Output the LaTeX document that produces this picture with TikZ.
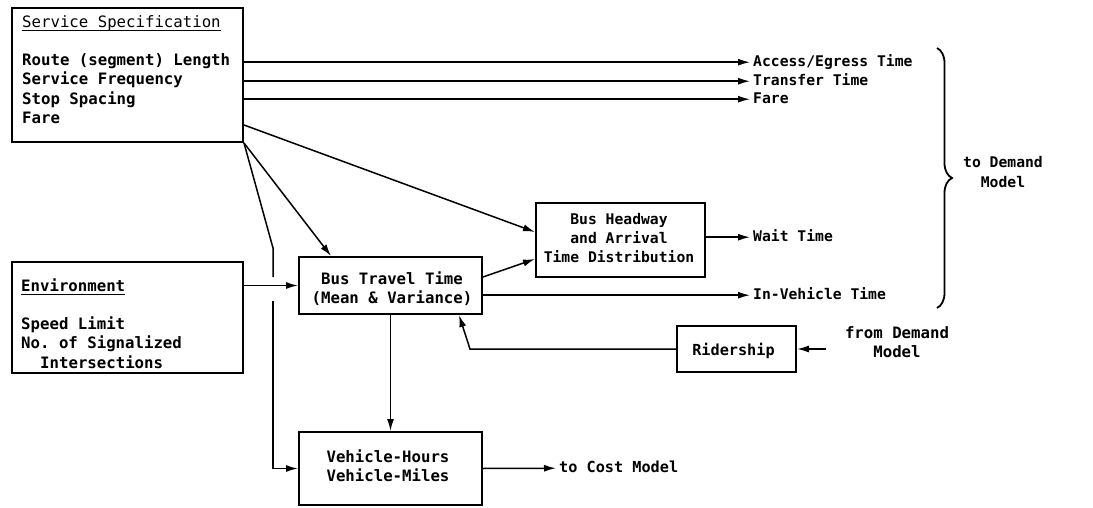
\documentclass[tikz,border=0pt]{standalone}
\usepackage{fontspec}
\setmonofont{DejaVu Sans Mono}
\usetikzlibrary{arrows.meta,calc,decorations.pathreplacing}
\newcommand\myul[1]{\setbox0\hbox{#1}\rlap{\rule[-4pt]{\wd0}{1.4pt}}\box0}
\newcommand\fbig{\ttfamily\bfseries\fontsize{15.7}{19.2}\selectfont}
\newcommand\fmid{\ttfamily\bfseries\fontsize{15.2}{19.2}\selectfont}
\newcommand\fsml{\ttfamily\bfseries\fontsize{14.7}{19.2}\selectfont}
\tikzset{
  box/.style={draw, line width=2pt, inner sep=0pt},
  lbl/.style={inner sep=0pt, align=center},
  lft/.style={inner sep=0pt, align=left, anchor=north west, font=\fbig},
  rlbl/.style={inner xsep=3pt, inner ysep=0pt, anchor=west, font=\fsml},
  conn/.style={line width=1.5pt},
  arr/.style={conn, -{Latex[length=12pt,width=7pt]}},
  bracestyle/.style={line width=1.8pt, decorate, decoration={brace, amplitude=15pt}},
}
\begin{document}
\begin{tikzpicture}[x=1pt, y=-1pt]
\useasboundingbox (0,0) rectangle (1093,508);

% boxes
\node[box, minimum width=231pt, minimum height=134pt] (ss)  at (127.5,75) {};
\node[box, minimum width=231pt, minimum height=111pt] (env) at (127.5,317.5) {};
\node[box, minimum width=183pt, minimum height=57pt]  (btt) at (390.5,285.5) {};
\node[box, minimum width=169pt, minimum height=74pt]  (bh)  at (620.5,240) {};
\node[box, minimum width=183pt, minimum height=73pt]  (vhm) at (390.5,468.5) {};
\node[box, minimum width=119pt, minimum height=46pt]  (rid) at (736.5,349) {};

% box texts
\node[lft] (sstxt) at (22,13.6) {\strut\myul{\mdseries Service Specification}\\\strut\\\strut Route (segment) Length\\\strut Service Frequency\\\strut Stop Spacing\\\strut Fare};
\node[lft] (envtxt) at (21,277.6) {\strut\myul{Environment}\\\strut\\\strut Speed Limit\\\strut No. of Signalized\\\strut\hspace*{19pt}Intersections};
\node[lbl, font=\fbig] (btttxt) at (392,290.2) {\strut Bus Travel Time\\\strut(Mean \& Variance)};
\node[lbl, font=\fsml] (bhtxt) at (619,239.8) {\strut Bus Headway\\\strut and Arrival\\\strut Time Distribution};
\node[lbl, font=\fbig] (vhmtxt) at (388,468.2) {\strut Vehicle-Hours\\\strut Vehicle-Miles};
\node[lbl, font=\fmid] (ridtxt) at (733.5,351.2) {\strut Ridership};

% outside labels
\node[rlbl] (acc)   at (750,62.2)  {\strut Access/Egress Time};
\node[rlbl] (tt)    at (750,81.2)  {\strut Transfer Time};
\node[rlbl] (fare)  at (750,99.2)  {\strut Fare};
\node[rlbl] (wait)  at (750,237.2) {\strut Wait Time};
\node[rlbl] (inveh) at (750,295.2) {\strut In-Vehicle Time};
\node[rlbl, font=\fmid] (cost) at (556,468.2) {\strut to Cost Model};
\node[lbl, font=\fbig] (fromdm) at (897,344.2) {\strut from Demand\\\strut Model};
\node[lbl, font=\fsml] (todm) at (1003,173.7) {\strut to Demand\\\strut Model};

% coordinates
\coordinate (j1) at (273,248);
\coordinate (j2) at (273,277);
\coordinate (j3) at (273,301);
\coordinate (bend) at (470,349);
\coordinate (fd) at (826,349);
\coordinate (brt) at (937,48);
\coordinate (brb) at (937,308);

% connectors
\draw[arr] (ss.east |- acc.west) -- (acc.west);
\draw[arr] (ss.east |- tt.west) -- (tt.west);
\draw[arr] (ss.east |- fare.west) -- (fare.west);
\draw[arr] ($(ss.east)+(0,50)$) -- ($(bh.west)+(0,-8)$);
\draw[arr] (ss.south east) -- ($(btt.north west)+(33,0)$);
\draw[conn] (ss.south east) -- (j1) -- (j2);
\draw[arr] (j3) -- (j3 |- vhm.west) -- (vhm.west);
\draw[arr] (btt.west -| env.east) -- (btt.west);
\draw[arr] ($(btt.east)+(0,-8.5)$) -- ($(bh.west)+(0,19)$);
\draw[arr] (btt.east |- inveh.west) -- (inveh.west);
\draw[arr] (bh.east |- wait.west) -- (wait.west);
\draw[arr] (btt.south) -- (vhm.north);
\draw[arr] (vhm.east) -- (cost.west);
\draw[arr] (rid.west) -- (bend) -- ($(btt.south east)+(-24,0)$);
\draw[arr] (fd) -- (rid.east);
\draw[bracestyle] (brt) -- (brb);
\end{tikzpicture}
\end{document}
